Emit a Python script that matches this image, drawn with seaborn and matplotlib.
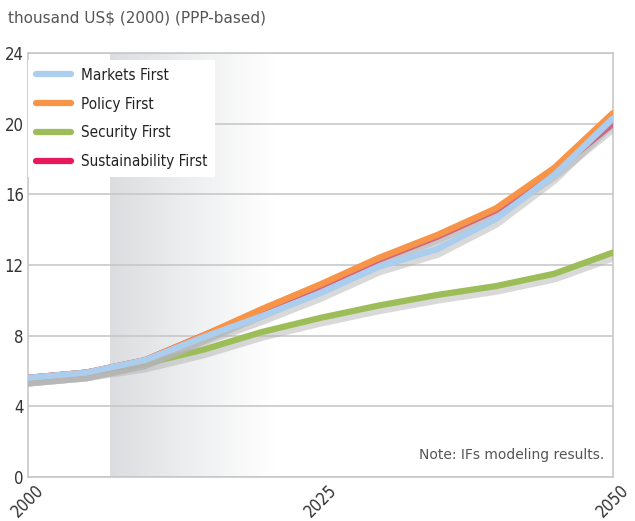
import numpy as np
import pandas as pd
import matplotlib
matplotlib.use("Agg")
import matplotlib.pyplot as plt
import matplotlib.patheffects as pe
import seaborn as sns

# data
years = [2000, 2005, 2010, 2015, 2020, 2025, 2030, 2035, 2040, 2045, 2050]
markets = [5.6, 5.9, 6.6, 7.9, 9.1, 10.4, 11.9, 12.9, 14.6, 17.1, 20.3]
policy = [5.6, 5.9, 6.6, 8.0, 9.5, 10.9, 12.4, 13.7, 15.2, 17.5, 20.6]
security = [5.6, 5.9, 6.4, 7.2, 8.2, 9.0, 9.7, 10.3, 10.8, 11.5, 12.7]
sustain = [5.6, 5.9, 6.6, 8.0, 9.4, 10.8, 12.3, 13.6, 15.1, 17.3, 20.0]

legend_order = ["Markets First", "Policy First", "Security First", "Sustainability First"]
draw_order = ["Security First", "Sustainability First", "Policy First", "Markets First"]
colors = {"Markets First": "#abcdee", "Policy First": "#f79448",
          "Security First": "#9cbd58", "Sustainability First": "#e8185a"}

df = pd.DataFrame({
    "year": years * 4,
    "value": markets + policy + security + sustain,
    "scenario": (["Markets First"] * 11 + ["Policy First"] * 11
                 + ["Security First"] * 11 + ["Sustainability First"] * 11),
})

sns.set_style("white")
plt.rcParams["font.family"] = ["DejaVu Sans"]
plt.rcParams["font.stretch"] = "condensed"

fig = plt.figure(figsize=(6.35, 5.21), dpi=100)
ax = fig.add_axes([0.044, 0.085, 0.921, 0.813])

# grey gradient for the projection period
grad = np.linspace(0, 1, 256).reshape(1, -1)
cmap = matplotlib.colors.LinearSegmentedColormap.from_list("g", ["#dcdde0", "#eeeff0", "#ffffff"])
ax.imshow(grad, extent=[2007, 2021, 0, 24], aspect="auto", cmap=cmap, zorder=0)

for name in draw_order:
    sub = df[df["scenario"] == name]
    sns.lineplot(data=sub, x="year", y="value", color=colors[name], lw=4.5,
                 ax=ax, zorder=3)
    line = ax.get_lines()[-1]
    line.set_path_effects([pe.SimpleLineShadow(offset=(0.5, -4), shadow_color="#b4b4b4", alpha=0.5),
                           pe.Normal()])

ax.set_xlim(2000, 2050)
ax.set_ylim(0, 24)
ax.set_yticks([0, 4, 8, 12, 16, 20, 24])
ax.set_xticks([2000, 2025, 2050])
ax.set_xlabel("")
ax.set_ylabel("")
ax.grid(axis="y", color="#c8c8c8", lw=1.2)
ax.set_axisbelow(True)
for s in ax.spines.values():
    s.set_color("#c8c8c8")
    s.set_linewidth(1.2)
ax.tick_params(axis="both", length=0, labelsize=12, colors="#333333", pad=3)
plt.setp(ax.get_xticklabels(), rotation=45, ha="center", va="top")

leg_lines = [plt.Line2D([], [], color=colors[n], lw=4.5) for n in legend_order]
leg = ax.legend(leg_lines, legend_order, loc="upper left", bbox_to_anchor=(0.0, 0.9835),
                frameon=True, fancybox=False, framealpha=1, edgecolor="white",
                fontsize=11, handlelength=2.35, labelspacing=0.9, borderpad=0.5,
                borderaxespad=0.0, handletextpad=0.6, labelcolor="#222222")
leg.get_frame().set_linewidth(0)

ax.text(0.985, 0.035, "Note: IFs modeling results.", transform=ax.transAxes,
        ha="right", va="bottom", fontsize=10, color="#555555", stretch="normal")
fig.text(0.012, 0.965, "thousand US$ (2000) (PPP-based)", ha="left", va="center",
         fontsize=11, color="#555555", stretch="normal")

fig.savefig("out.png", dpi=100)
